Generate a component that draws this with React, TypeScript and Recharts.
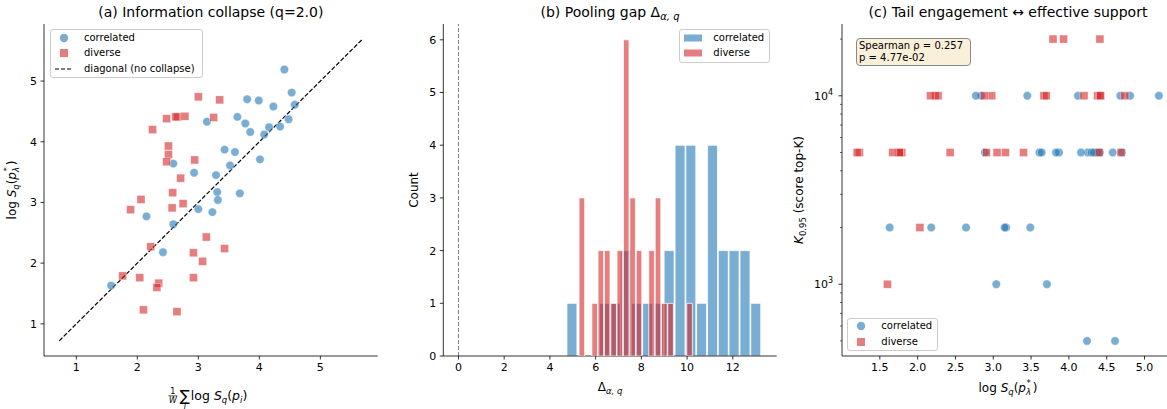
import React from 'react';
import { ComposedChart, Scatter, Bar, XAxis, YAxis, ReferenceLine } from 'recharts';

const BLUE = '#1f77b4';
const RED = '#d62728';
const FONT = 'DejaVu Sans, sans-serif';

// per-prompt values, correlated pool
const corrMeanLog = [4.41, 4.53, 4.58, 3.80, 3.99, 4.23, 4.48, 4.34, 4.16, 4.08, 3.64, 3.77, 3.85, 3.14, 3.43, 3.60, 3.52, 4.01, 2.59, 2.93, 3.29, 3.31, 3.68, 3.32, 3.00, 3.23, 2.15, 2.59, 2.42, 1.57];
const corrLogS = [5.19, 4.81, 4.61, 4.70, 4.68, 4.58, 4.37, 4.25, 4.24, 4.12, 4.41, 4.30, 4.16, 4.33, 3.87, 3.83, 3.61, 3.71, 3.64, 3.49, 3.45, 3.17, 3.15, 3.04, 2.89, 2.84, 2.77, 2.64, 2.18, 1.63];
const corrK = [10000, 10000, 500, 5000, 10000, 5000, 5000, 5000, 500, 10000, 5000, 5000, 5000, 5000, 5000, 5000, 5000, 1000, 5000, 2000, 10000, 2000, 2000, 1000, 5000, 10000, 10000, 2000, 2000, 2000];

// per-prompt values, diverse pool
const divMeanLog = [3.00, 3.35, 2.48, 2.66, 2.63, 2.78, 3.25, 2.25, 2.51, 2.51, 2.48, 2.94, 2.71, 2.58, 2.06, 2.75, 1.89, 2.57, 3.13, 2.22, 3.43, 2.92, 3.07, 1.76, 2.04, 2.92, 2.35, 2.32, 2.10, 2.65];
const divLogS = [4.74, 4.69, 4.38, 4.41, 4.41, 4.42, 4.40, 4.20, 3.93, 3.79, 3.67, 3.70, 3.40, 3.16, 3.05, 2.98, 2.88, 2.91, 2.43, 2.27, 2.24, 2.17, 2.03, 1.79, 1.76, 1.76, 1.67, 1.60, 1.23, 1.20];
const divK = [10000, 5000, 10000, 20000, 10000, 10000, 5000, 10000, 20000, 20000, 10000, 10000, 5000, 5000, 5000, 10000, 10000, 5000, 5000, 10000, 10000, 10000, 2000, 5000, 5000, 5000, 5000, 1000, 5000, 5000];

// histogram of pooling gap
const corrBinCenters = [4.98, 5.45, 5.92, 6.40, 6.87, 7.34, 7.81, 8.29, 8.76, 9.23, 9.71, 10.18, 10.65, 11.13, 11.60, 12.07, 12.55, 13.02];
const corrCounts = [1, 0, 0, 1, 1, 2, 1, 1, 1, 2, 4, 4, 1, 4, 2, 2, 2, 1];
const divBinCenters = [5.41, 5.69, 5.97, 6.24, 6.52, 6.80, 7.07, 7.35, 7.63, 7.91, 8.18, 8.46, 8.74, 9.02, 9.29, 9.57, 9.85, 10.12];
const divCounts = [3, 0, 1, 2, 2, 1, 2, 6, 3, 2, 0, 2, 3, 1, 1, 0, 0, 1];

const diagonal = [0.72, 5.69];
const spearmanRho = '0.257';
const spearmanP = '4.77e-02';

const ticksA = [1, 2, 3, 4, 5];
const ticksB = [0, 2, 4, 6, 8, 10, 12];
const ticksBy = [0, 1, 2, 3, 4, 5, 6];
const ticksC = [1.5, 2.0, 2.5, 3.0, 3.5, 4.0, 4.5, 5.0];
const ticksCy = [500, 600, 700, 800, 900, 1000, 2000, 3000, 4000, 5000, 6000, 7000, 8000, 9000, 10000, 20000];

const corrA = corrMeanLog.map((x, i) => ({ x, y: corrLogS[i] }));
const divA = divMeanLog.map((x, i) => ({ x, y: divLogS[i] }));
const corrC = corrLogS.map((x, i) => ({ x, y: corrK[i] }));
const divC = divLogS.map((x, i) => ({ x, y: divK[i] }));
const corrHist = corrBinCenters.map((x, i) => ({ x, n: corrCounts[i] }));
const divHist = divBinCenters.map((x, i) => ({ x, n: divCounts[i] }));

const tickStyle = { fill: '#000', fontSize: 11, fontFamily: FONT };
const axLine = { stroke: '#000', strokeWidth: 0.8 };

const Dot = (p: any) => (
  <circle cx={p.cx} cy={p.cy} r={4.2} fill={BLUE} fillOpacity={0.6} stroke="#fff" strokeWidth={0.6} strokeOpacity={0.6} />
);
const Sq = (p: any) => (
  <rect x={p.cx - 4} y={p.cy - 4} width={8} height={8} fill={RED} fillOpacity={0.6} stroke="#fff" strokeWidth={0.6} strokeOpacity={0.6} />
);

function LogS({ x, y, rotate }: { x: number; y: number; rotate?: boolean }) {
  return (
    <text x={x} y={y} textAnchor="middle" fontSize={12} fontFamily={FONT} fill="#000"
      transform={rotate ? `rotate(-90 ${x} ${y})` : undefined}>
      {'log '}
      <tspan fontStyle="italic">S</tspan>
      <tspan fontSize={8.5} fontStyle="italic" dy={3}>q</tspan>
      <tspan dy={-3}>(</tspan>
      <tspan fontStyle="italic">p</tspan>
      <tspan fontSize={8.5} fontStyle="italic" dy={3}>λ</tspan>
      <tspan fontSize={8.5} dx={-4.5} dy={-9}>*</tspan>
      <tspan dx={2} dy={6}>)</tspan>
    </text>
  );
}

function Title({ x, children }: { x: number; children: React.ReactNode }) {
  return (
    <text x={x} y={16.5} textAnchor="middle" fontSize={14} fontFamily={FONT} fill="#000">{children}</text>
  );
}

function LegendBox({ left, top, width, height, items }: any) {
  return (
    <div style={{
      position: 'absolute', left, top, width, height, boxSizing: 'border-box',
      border: '1px solid #cccccc', borderRadius: 3, background: 'rgba(255,255,255,0.8)',
      fontFamily: FONT, fontSize: 10, color: '#000',
    }}>
      {items.map((it: any, i: number) => (
        <div key={it.label} style={{ position: 'absolute', left: 0, top: 7.5 + i * 15.6 - 7, height: 14, width: '100%' }}>
          <svg style={{ position: 'absolute', left: 3, top: 0 }} width={20} height={14}>{it.icon}</svg>
          <span style={{ position: 'absolute', left: 33, top: 0, lineHeight: '14px', whiteSpace: 'nowrap' }}>{it.label}</span>
        </div>
      ))}
    </div>
  );
}

const iconDot = <circle cx={10} cy={7} r={4.2} fill={BLUE} fillOpacity={0.6} />;
const iconSq = <rect x={6} y={3} width={8} height={8} fill={RED} fillOpacity={0.6} />;
const iconDash = <line x1={1} x2={19} y1={7} y2={7} stroke="#000" strokeWidth={1.2} strokeDasharray="4 2" />;
const iconPatch = (c: string) => <rect x={1} y={3.5} width={18} height={7} fill={c} fillOpacity={0.6} />;

// panel geometry (local to each chart)
const H = 409;
const TOP = 24;
const XH = 53;

function PanelA() {
  const W = 390, L = 44, R = 377.7;
  const cx = (L + R) / 2;
  return (
    <div style={{ position: 'absolute', left: 0, top: 0, width: W, height: H }}>
      <ComposedChart width={W} height={H} margin={{ top: TOP, right: W - R, bottom: 0, left: 0 }}>
        <XAxis type="number" dataKey="x" domain={[0.47, 5.94]} ticks={ticksA} allowDataOverflow interval={0}
          height={XH} tickSize={3.5} tickMargin={3.5} tick={tickStyle} axisLine={axLine} tickLine={axLine} />
        <YAxis type="number" dataKey="y" domain={[0.47, 5.94]} ticks={ticksA} allowDataOverflow interval={0}
          width={L} tickSize={3.5} tickMargin={3.5} tick={tickStyle} axisLine={axLine} tickLine={axLine} />
        <Scatter data={corrA} shape={Dot} isAnimationActive={false} />
        <Scatter data={divA} shape={Sq} isAnimationActive={false} />
        <ReferenceLine segment={[{ x: diagonal[0], y: diagonal[0] }, { x: diagonal[1], y: diagonal[1] }]}
          stroke="#000" strokeWidth={1.2} strokeDasharray="4.4 1.9" ifOverflow="visible" />
        <Title x={cx}>(a) Information collapse (q=2.0)</Title>
        <LogS x={16} y={190} rotate />
        <g fontFamily={FONT} fill="#000">
          <text x={cx - 38} y={394} fontSize={8} textAnchor="middle">1</text>
          <line x1={cx - 42.5} x2={cx - 33.5} y1={395.8} y2={395.8} stroke="#000" strokeWidth={0.6} />
          <text x={cx - 38} y={402.5} fontSize={8} fontStyle="italic" textAnchor="middle">W</text>
          <text x={cx - 26} y={401} fontSize={15} textAnchor="middle">∑</text>
          <text x={cx - 26} y={408.5} fontSize={8} fontStyle="italic" textAnchor="middle">i</text>
          <text x={cx - 20} y={400} fontSize={12.5}>
            {'log '}
            <tspan fontStyle="italic">S</tspan>
            <tspan fontSize={8.5} fontStyle="italic" dy={3}>q</tspan>
            <tspan dy={-3}>(</tspan>
            <tspan fontStyle="italic">p</tspan>
            <tspan fontSize={8.5} fontStyle="italic" dy={3}>i</tspan>
            <tspan dy={-3}>)</tspan>
          </text>
        </g>
      </ComposedChart>
      <LegendBox left={50} top={29} width={153} height={49} items={[
        { label: 'correlated', icon: iconDot },
        { label: 'diverse', icon: iconSq },
        { label: 'diagonal (no collapse)', icon: iconDash },
      ]} />
    </div>
  );
}

function PanelB() {
  const X0 = 390, W = 400, L = 53.3, R = 386.7;
  const cx = (L + R) / 2;
  const margin = { top: TOP, right: W - R, bottom: 0, left: 0 };
  return (
    <div style={{ position: 'absolute', left: X0, top: 0, width: W, height: H }}>
      <div style={{ position: 'absolute', left: 0, top: 0 }}>
        <ComposedChart width={W} height={H} margin={margin} data={corrHist}>
          <XAxis type="number" dataKey="x" domain={[-0.663, 13.92]} ticks={ticksB} allowDataOverflow interval={0}
            height={XH} tickSize={3.5} tickMargin={3.5} tick={tickStyle} axisLine={axLine} tickLine={axLine} />
          <YAxis type="number" domain={[0, 6.3]} ticks={ticksBy} allowDataOverflow interval={0}
            width={L} tickSize={3.5} tickMargin={3.5} tick={tickStyle} axisLine={axLine} tickLine={axLine} />
          <ReferenceLine x={0} stroke="#808080" strokeWidth={1} strokeDasharray="4 2" />
          <Bar dataKey="n" fill={BLUE} fillOpacity={0.6} stroke="#fff" strokeWidth={0.8} barSize={10} isAnimationActive={false} />
          <Title x={cx}>
            {'(b) Pooling gap Δ'}
            <tspan fontSize={10} fontStyle="italic" dy={3}>α, q</tspan>
          </Title>
          <text x={28} y={190} textAnchor="middle" fontSize={12} fontFamily={FONT} fill="#000" transform="rotate(-90 28 190)">Count</text>
          <text x={cx} y={391} textAnchor="middle" fontSize={12} fontFamily={FONT} fill="#000">
            {'Δ'}
            <tspan fontSize={8.5} fontStyle="italic" dy={3}>α, q</tspan>
          </text>
        </ComposedChart>
      </div>
      <div style={{ position: 'absolute', left: 0, top: 0, pointerEvents: 'none' }}>
        <ComposedChart width={W} height={H} margin={margin} data={divHist}>
          <XAxis type="number" dataKey="x" domain={[-0.663, 13.92]} ticks={ticksB} allowDataOverflow
            height={XH} tick={false} axisLine={false} tickLine={false} />
          <YAxis type="number" domain={[0, 6.3]} allowDataOverflow width={L} tick={false} axisLine={false} tickLine={false} />
          <Bar dataKey="n" fill={RED} fillOpacity={0.6} stroke="#fff" strokeWidth={0.8} barSize={5.6} isAnimationActive={false} />
        </ComposedChart>
      </div>
      <LegendBox left={289.3} top={29.3} width={90.7} height={34} items={[
        { label: 'correlated', icon: iconPatch(BLUE) },
        { label: 'diverse', icon: iconPatch(RED) },
      ]} />
    </div>
  );
}

const LogTick = (props: any) => {
  const { y, payload } = props;
  const v = payload.value;
  const major = v === 1000 || v === 10000;
  const left = 52;
  return (
    <g>
      <line x1={left - (major ? 3.5 : 2)} x2={left} y1={y} y2={y} stroke="#000" strokeWidth={major ? 0.8 : 0.6} />
      {major && (
        <text x={left - 9} y={y} dy="0.35em" textAnchor="end" fontSize={11} fontFamily={FONT} fill="#000">
          10<tspan fontSize={8} dy={-5}>{Math.round(Math.log10(v))}</tspan>
        </text>
      )}
    </g>
  );
};

function PanelC() {
  const X0 = 790, W = 400, L = 52, R = 384;
  const cx = (L + R) / 2;
  return (
    <div style={{ position: 'absolute', left: X0, top: 0, width: W, height: H }}>
      <ComposedChart width={W} height={H} margin={{ top: TOP, right: W - R, bottom: 0, left: 0 }}>
        <XAxis type="number" dataKey="x" domain={[1.0, 5.39]} ticks={ticksC} allowDataOverflow interval={0}
          height={XH} tickSize={3.5} tickMargin={3.5} tick={tickStyle} axisLine={axLine} tickLine={axLine}
          tickFormatter={(v: number) => v.toFixed(1)} />
        <YAxis type="number" dataKey="y" scale="log" domain={[416, 24044]} ticks={ticksCy} allowDataOverflow interval={0}
          width={L} tick={<LogTick />} axisLine={axLine} tickLine={false} />
        <Scatter data={corrC} shape={Dot} isAnimationActive={false} />
        <Scatter data={divC} shape={Sq} isAnimationActive={false} />
        <Title x={cx}>(c) Tail engagement ↔ effective support</Title>
        <text x={12.5} y={190} textAnchor="middle" fontSize={12} fontFamily={FONT} fill="#000" transform="rotate(-90 12.5 190)">
          <tspan fontStyle="italic">K</tspan>
          <tspan fontSize={8.5} dy={3}>0.95</tspan>
          <tspan dy={-3}>{' (score top-K)'}</tspan>
        </text>
        <LogS x={cx} y={392} />
      </ComposedChart>
      <div style={{
        position: 'absolute', left: 66, top: 37.7, width: 114.7, height: 28, boxSizing: 'border-box',
        border: '1px solid #8a8a8a', borderRadius: 4, background: '#faefd9',
        fontFamily: FONT, fontSize: 10, lineHeight: '12px', padding: '1px 2px', color: '#000', whiteSpace: 'nowrap',
      }}>
        <div>Spearman ρ = {spearmanRho}</div>
        <div>p = {spearmanP}</div>
      </div>
      <LegendBox left={57.3} top={317.7} width={91} height={33.3} items={[
        { label: 'correlated', icon: iconDot },
        { label: 'diverse', icon: iconSq },
      ]} />
    </div>
  );
}

export default function App() {
  return (
    <div style={{ position: 'absolute', left: 0, top: 0, width: 1167, height: H, overflow: 'hidden', background: '#fff' }}>
      <PanelA />
      <PanelB />
      <PanelC />
    </div>
  );
}
